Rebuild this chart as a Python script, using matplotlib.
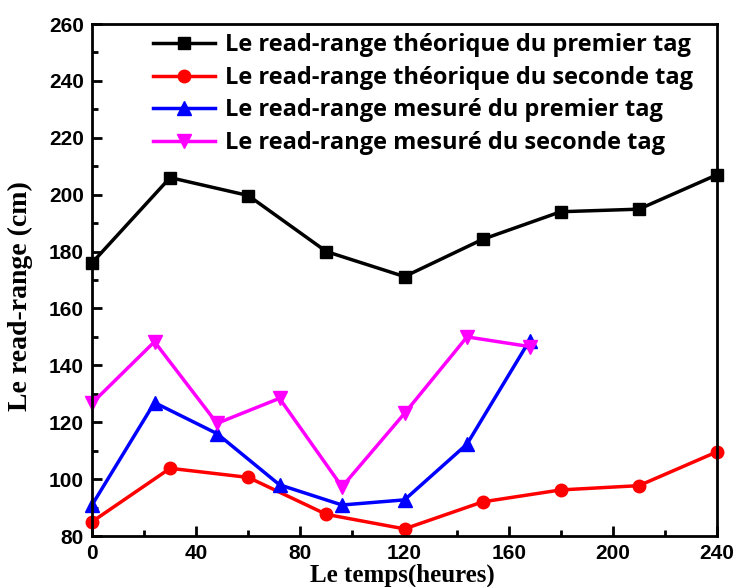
import matplotlib
matplotlib.use("Agg")
import matplotlib.pyplot as plt
from matplotlib.ticker import MultipleLocator

# data
x_theo = [0, 30, 60, 90, 120, 150, 180, 210, 240]
theo_tag1 = [176, 206, 199.7, 180, 171.2, 184.3, 194, 194.9, 207]
theo_tag2 = [85, 103.8, 100.6, 87.6, 82.5, 92, 96.2, 97.7, 109.6]

x_mes = [0, 24, 48, 72, 96, 120, 144, 168]
mes_tag1 = [90.9, 126.9, 116, 98, 90.9, 92.7, 112.3, 148.7]
mes_tag2 = [126.7, 148.3, 119.6, 128.4, 97.3, 123.1, 150, 146.6]

labels = ["Le read-range théorique du premier tag",
          "Le read-range théorique du seconde tag",
          "Le read-range mesuré du premier tag",
          "Le read-range mesuré du seconde tag"]

fig = plt.figure(figsize=(7.34, 5.87), dpi=100)
ax = fig.add_axes([92 / 734, 1 - 536 / 587, 625 / 734, 512 / 587])

lw = 2.5
ax.plot(x_theo, theo_tag1, color="black", marker="s", ms=8, lw=lw, label=labels[0], clip_on=False)
ax.plot(x_theo, theo_tag2, color="red", marker="o", ms=9, lw=lw, label=labels[1], clip_on=False)
ax.plot(x_mes, mes_tag1, color="blue", marker="^", ms=10, lw=lw, label=labels[2], clip_on=False)
ax.plot(x_mes, mes_tag2, color="magenta", marker="v", ms=10, lw=lw, label=labels[3], clip_on=False)

ax.set_xlim(0, 240)
ax.set_ylim(80, 260)
ax.xaxis.set_major_locator(MultipleLocator(40))
ax.xaxis.set_minor_locator(MultipleLocator(20))
ax.yaxis.set_major_locator(MultipleLocator(20))
ax.yaxis.set_minor_locator(MultipleLocator(10))
ax.tick_params(which="both", direction="in", width=2, top=False, right=False)
ax.tick_params(which="major", length=7, labelsize=15, pad=6)
ax.tick_params(which="minor", length=4)
for lab in ax.get_xticklabels() + ax.get_yticklabels():
    lab.set_fontfamily("Liberation Sans")
    lab.set_fontweight("bold")
for sp in ax.spines.values():
    sp.set_linewidth(2)

ax.set_xlabel("Le temps(heures)", family="Liberation Serif", weight="bold", fontsize=18)
ax.xaxis.set_label_coords(0.496, -0.053)
ax.set_ylabel("Le read-range (cm)", family="Liberation Serif", weight="bold", fontsize=20)
ax.yaxis.set_label_coords(-0.094, 0.469)

ax.legend(loc="upper left", bbox_to_anchor=(0.0826, 1.0), frameon=False,
          prop={"family": "Open Sans", "weight": "bold", "size": 17},
          handlelength=2.63, labelspacing=0.36, handletextpad=0.42, borderaxespad=0)

fig.savefig("out.png", dpi=100)
